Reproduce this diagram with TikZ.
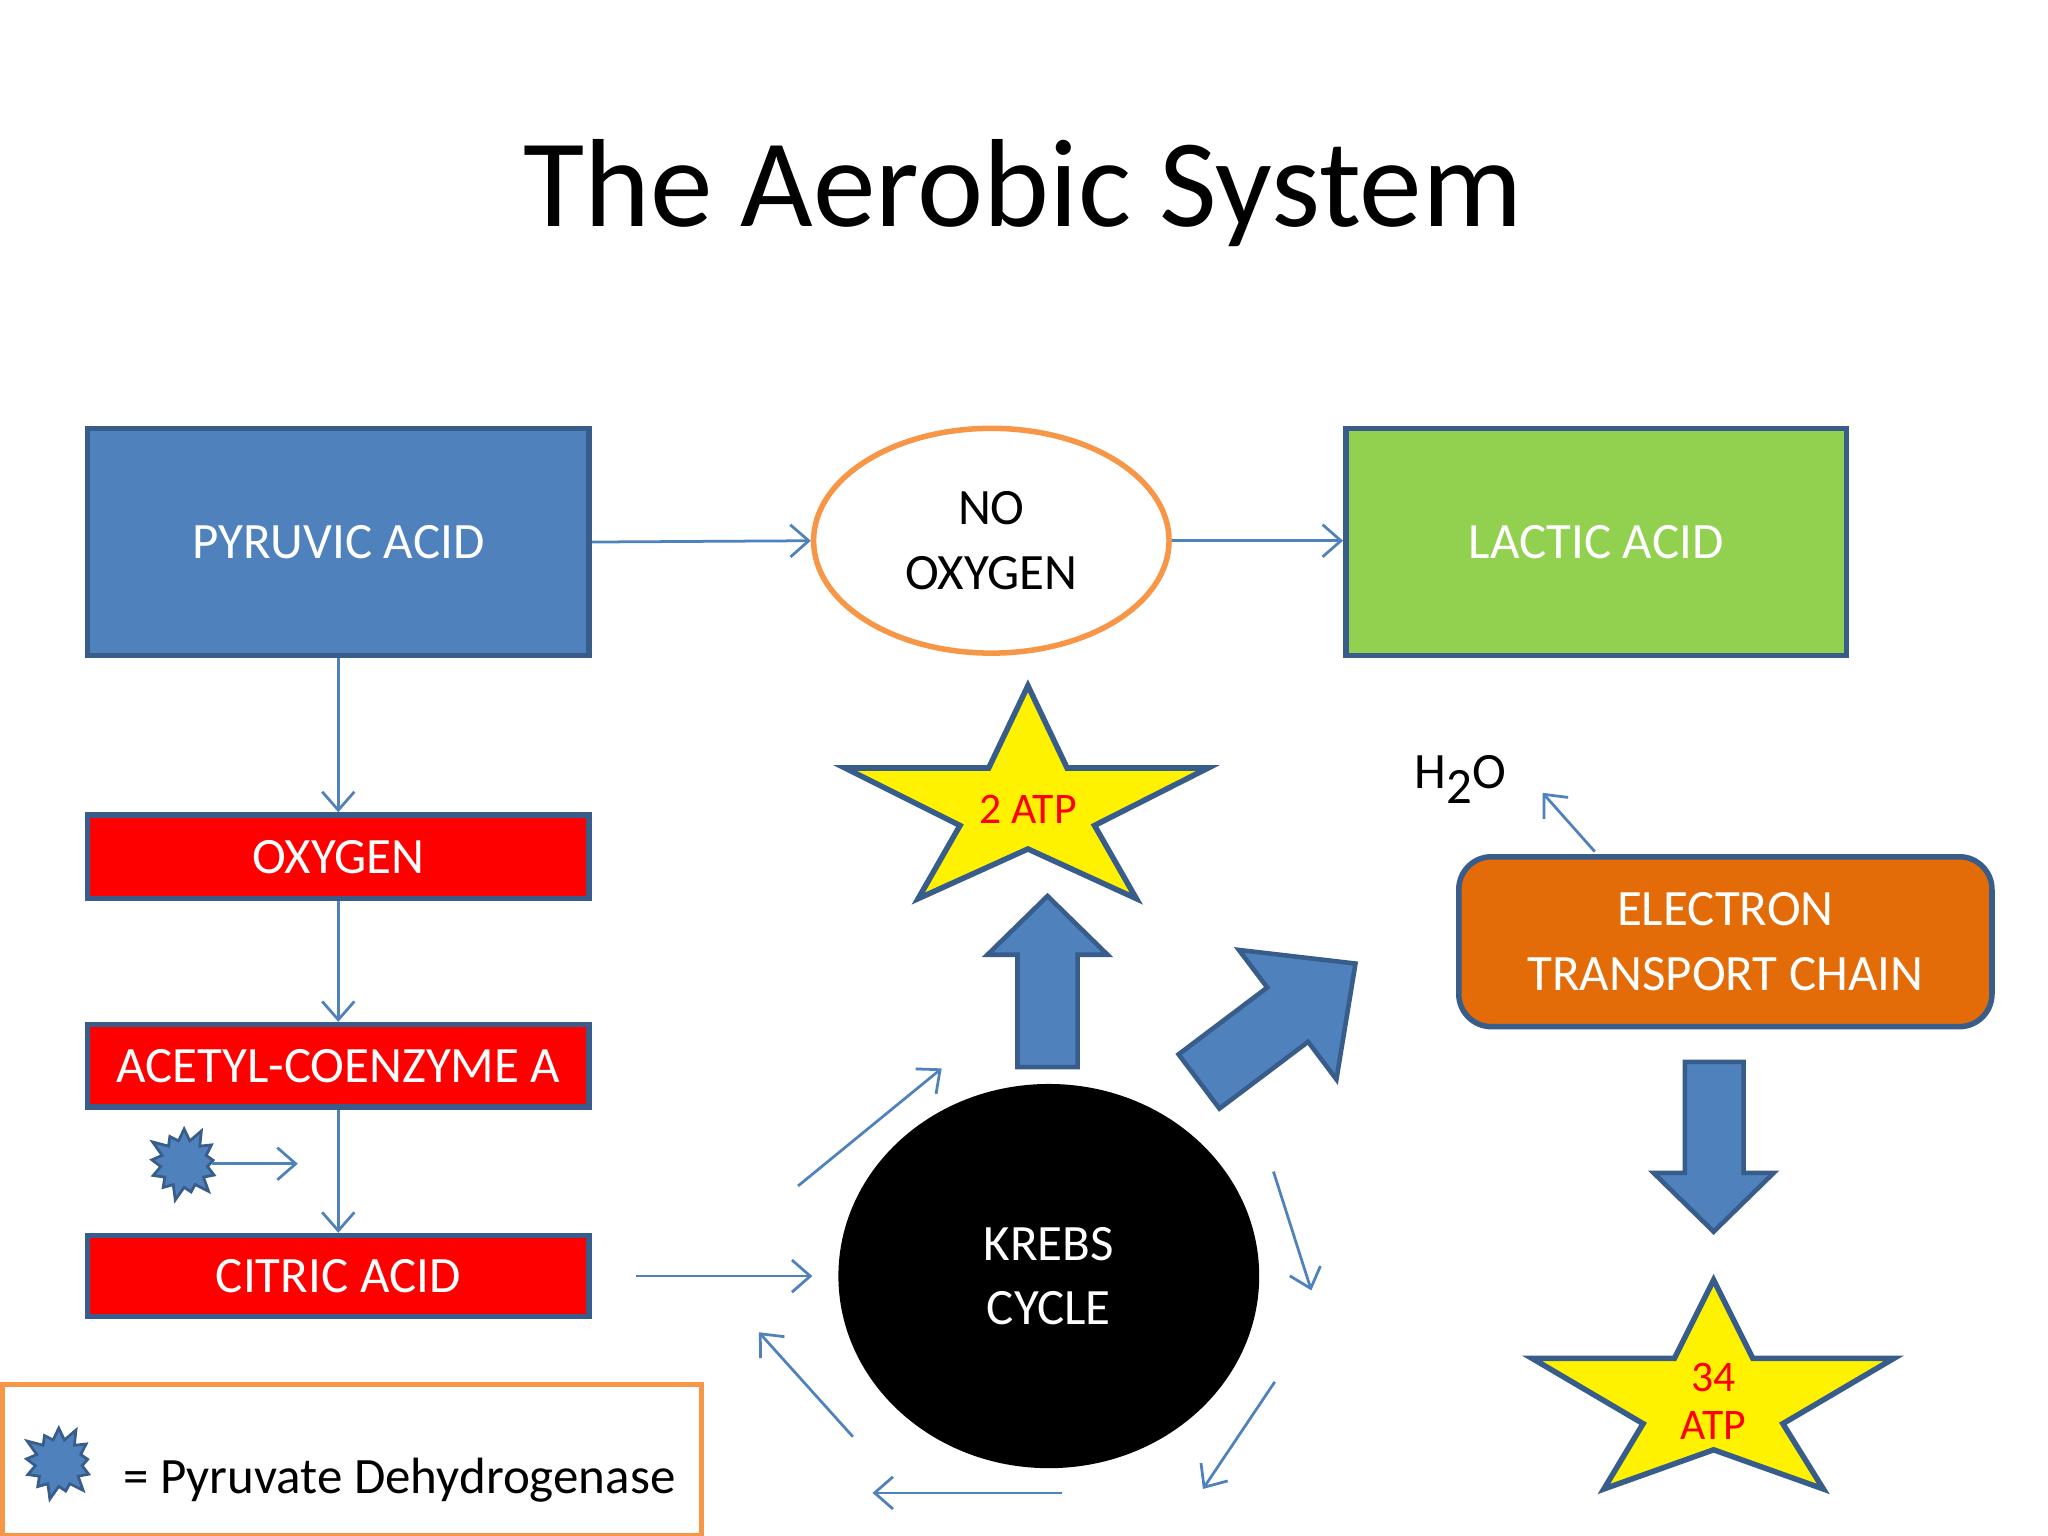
\documentclass[tikz,border=0pt]{standalone}
\usepackage{fontspec}
\setmainfont{Carlito}
\usetikzlibrary{shapes.geometric,shapes.symbols,arrows.meta}
\definecolor{bl}{HTML}{4F81BD}
\definecolor{bd}{HTML}{385D8A}
\definecolor{og}{HTML}{F79646}
\definecolor{gr}{HTML}{92D050}
\definecolor{etc}{HTML}{E36C09}
\begin{document}
\begin{tikzpicture}[x=0.01cm,y=-0.01cm,
  box/.style={draw=bd,line width=1.2pt,text=white,font=\fontsize{11.1}{14}\selectfont,inner sep=0pt,align=center},
  ar/.style={draw=bl,line width=0.6pt,-{Straight Barb[length=4pt,width=7pt]}},
  blk/.style={fill=bl,draw=bd,line width=1pt},
  st/.style={fill=yellow,draw=bd,line width=1.2pt},
  burst/.style={starburst,starburst points=13,starburst point height=0.12cm,fill=bl,draw=bd,line width=0.6pt,minimum size=0.6cm,inner sep=0pt}]
\useasboundingbox (0,0) rectangle (1568,1176);
\node (title) at (783,148) {\fontsize{27.3}{32}\selectfont The Aerobic System};
\node[box,fill=bl,minimum width=3.84cm,minimum height=1.74cm] (pyr) at (259,415) {PYRUVIC ACID};
\node[ellipse,draw=og,line width=1.2pt,fill=white,minimum width=2.72cm,minimum height=1.72cm,align=center,font=\fontsize{11.1}{14}\selectfont] (no) at (759,414) {NO\\OXYGEN};
\node[box,fill=gr,minimum width=3.83cm,minimum height=1.74cm] (lac) at (1222,415) {LACTIC ACID};
\node[box,fill=red,minimum width=3.84cm,minimum height=0.64cm] (oxy) at (259,656) {OXYGEN};
\node[box,fill=red,minimum width=3.84cm,minimum height=0.63cm] (ace) at (259,816) {ACETYL-COENZYME A};
\node[box,fill=red,minimum width=3.84cm,minimum height=0.62cm] (cit) at (259,977) {CITRIC ACID};
\draw[ar] (pyr.east) -- (no.west);
\draw[ar] (no.east) -- (lac.west |- no.east);
\draw[ar] (pyr.south) -- (oxy.north);
\draw[ar] (oxy.south) -- (ace.north);
\draw[ar] (ace.south) -- (cit.north);
\node[burst] (b1) at (141,891) {};
\coordinate (b1e) at (228,891);
\draw[ar] (b1.east) -- (b1e);
\node[ellipse,fill=black,minimum width=3.22cm,minimum height=2.94cm,text=white,align=center,font=\fontsize{11.1}{14}\selectfont] (krebs) at (803,977) {KREBS\\CYCLE};
\coordinate (ce) at (487,977); \coordinate (ke) at (622,977);
\draw[ar] (ce) -- (ke);
% star 1
\draw[st] (787,525)--(817,588)--(925,588)--(838,632)--(870,688)--(787,650)--(703,688)--(735,632)--(647,588)--(757,588)--cycle;
\node[text=red,font=\fontsize{9.5}{12}\selectfont] (atp2) at (787,620) {2 ATP};
% up block arrow
\draw[blk] (779,817)--(779,731)--(756,731)--(802,686)--(848,731)--(825,731)--(825,817)--cycle;
% diagonal block arrow
\begin{scope}[shift={(918,828)},rotate=37]
\draw[blk] (0,-26)--(85,-26)--(85,-62)--(150,0)--(85,62)--(85,26)--(0,26)--cycle;
\end{scope}
\node[box,fill=etc,rounded corners=0.25cm,minimum width=4.08cm,minimum height=1.3cm] (etcn) at (1321,721) {ELECTRON\\TRANSPORT CHAIN};
\node[font=\fontsize{11.1}{14}\selectfont] (h2o) at (1118,597) {H\raisebox{-0.6ex}{2}O};
\coordinate (h2oa) at (1181,607);
\draw[ar] (1221,652) -- (h2oa);
\draw[blk] (1290,813)--(1335,813)--(1335,898)--(1358,898)--(1312,943)--(1266,898)--(1290,898)--cycle;
\draw[st] (1312,980)--(1342,1040)--(1450,1040)--(1365,1090)--(1396,1140)--(1312,1110)--(1228,1140)--(1258,1090)--(1173,1040)--(1282,1040)--cycle;
\node[text=red,align=center,font=\fontsize{9.5}{10.5}\selectfont] (atp34) at (1312,1073) {34\\ATP};
% cycle arrows
\coordinate (c1) at (611,908); \coordinate (c2) at (721,818);
\coordinate (c3) at (975,897); \coordinate (c4) at (1004,988);
\coordinate (c5) at (976,1058); \coordinate (c6) at (921,1140);
\coordinate (c7) at (813,1143); \coordinate (c8) at (668,1143);
\coordinate (c9) at (653,1100); \coordinate (c10) at (581,1020);
\draw[ar] (c1)--(c2); \draw[ar] (c3)--(c4); \draw[ar] (c5)--(c6); \draw[ar] (c7)--(c8); \draw[ar] (c9)--(c10);
% legend
\node[draw=og,line width=1.2pt,minimum width=5.35cm,minimum height=1.16cm,inner sep=0pt] (leg) at (269.5,1118) {};
\node[burst] (b2) at (45,1120) {};
\node[anchor=west,font=\fontsize{11.1}{14}\selectfont] (legt) at (82,1133) {= Pyruvate Dehydrogenase};
\end{tikzpicture}
\end{document}
